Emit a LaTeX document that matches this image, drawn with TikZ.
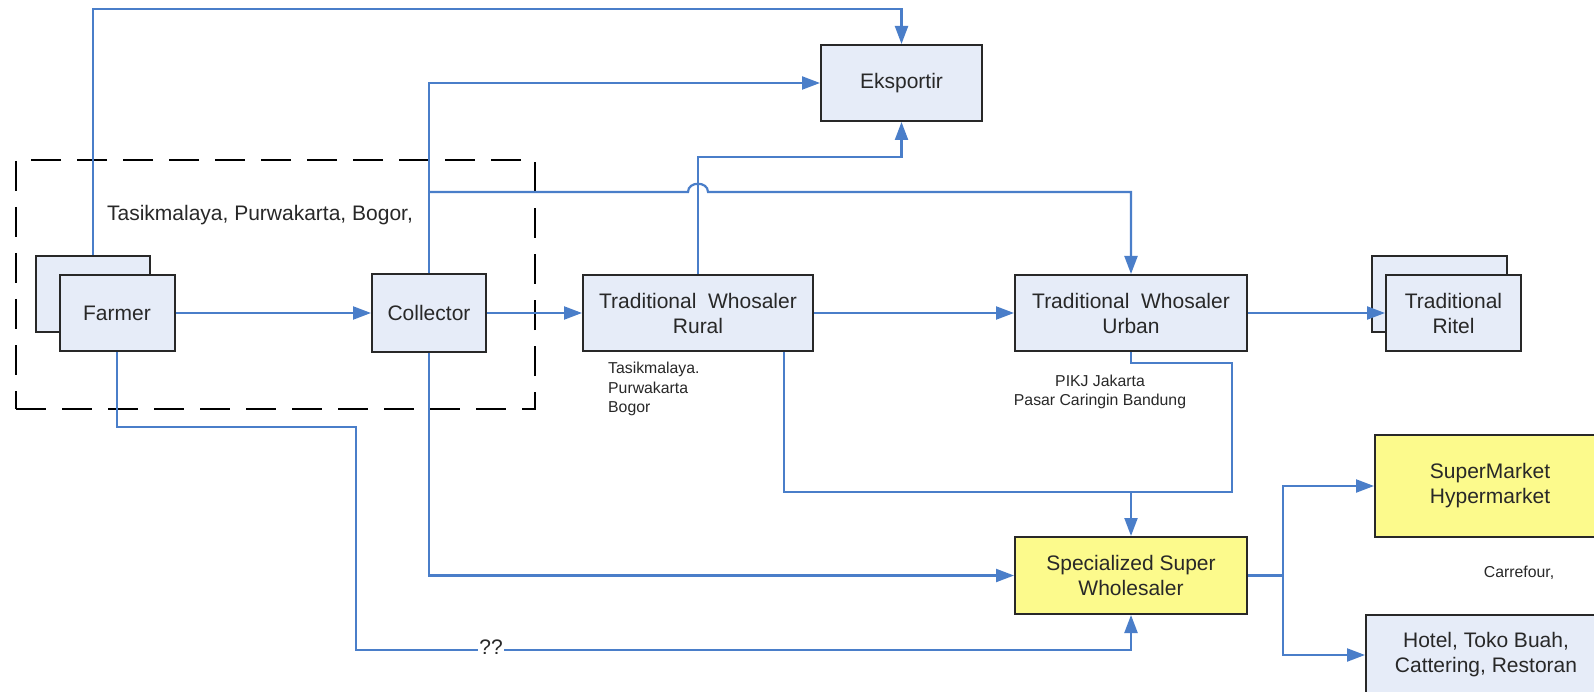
\documentclass[tikz,border=0pt]{standalone}
\usepackage{fontspec}
\setmainfont{Liberation Sans}
\usetikzlibrary{arrows.meta}
\definecolor{boxblue}{RGB}{230,236,248}
\definecolor{boxyellow}{RGB}{252,250,140}
\definecolor{lineblue}{RGB}{74,126,201}
\definecolor{boxline}{RGB}{40,40,40}
\definecolor{txt}{RGB}{40,40,40}
\begin{document}
\begin{tikzpicture}[x=1pt,y=-1pt,
  box/.style={draw=boxline, line width=2pt, fill=boxblue, inner sep=0pt, align=center,
    font=\fontsize{21}{25}\selectfont, text=txt},
  ybox/.style={box, fill=boxyellow},
  region/.style={draw=black, line width=1.8pt, dash pattern=on 30pt off 16pt, inner sep=0pt},
  conn/.style={draw=lineblue, line width=2.2pt, -{Triangle[length=18pt,width=13pt]}},
  plainline/.style={draw=lineblue, line width=2.2pt},
  small/.style={font=\fontsize{15.8}{19.5}\selectfont, text=txt, inner sep=0pt},
  biglabel/.style={font=\fontsize{21}{25}\selectfont, text=txt, inner sep=0pt}
]
\useasboundingbox (0,0) rectangle (1594,692);
\fill[white] (0,0) rectangle (1594,692);

% dashed region
\node[region, minimum width=519pt, minimum height=249pt] (region) at (275.5,284.5) {};

% boxes
\node[box, minimum width=114pt, minimum height=76pt] (farmerback) at (93,294) {};
\node[box, minimum width=115pt, minimum height=76pt] (farmer) at (117,313) {Farmer};
\node[box, minimum width=114pt, minimum height=77pt] (collector) at (429,313) {Collector};
\node[box, minimum width=230pt, minimum height=76pt] (rural) at (698,313) {Traditional\ \ Whosaler\\Rural};
\node[box, minimum width=232pt, minimum height=76pt] (urban) at (1131,313) {Traditional\ \ Whosaler\\Urban};
\node[box, minimum width=135pt, minimum height=76pt] (ritelback) at (1439.5,294) {};
\node[box, minimum width=135pt, minimum height=76pt] (ritel) at (1453.5,313) {Traditional\\Ritel};
\node[box, minimum width=161pt, minimum height=76pt] (eksportir) at (901.5,83) {Eksportir};
\node[ybox, minimum width=232pt, minimum height=77pt] (ssw) at (1131,575.5) {Specialized Super\\Wholesaler};
\node[ybox, minimum width=230pt, minimum height=102pt] (super) at (1490,486) {SuperMarket\\Hypermarket};
\node[box, minimum width=240pt, minimum height=80pt] (hotel) at (1486,655) {Hotel, Toko Buah,\\Cattering, Restoran};

% connectors
\draw[conn] (farmerback.north) |- (eksportir.north |- 0,9) -- (eksportir.north);
\draw[conn] (collector.north) |- (eksportir.west);
\draw[conn] (collector.north |- 0,192) -- (688,192)
   .. controls +(0,-11) and +(0,-11) .. (708,192) -| (urban.north);
\draw[conn] (rural.north) |- (eksportir.south |- 0,157) -- (eksportir.south);
\draw[conn] (farmer) -- (collector);
\draw[conn] (collector) -- (rural);
\draw[conn] (rural) -- (urban);
\draw[conn] (urban) -- (ritel);
\draw[conn] (farmer.south) |- (356,427) |- (ssw.south |- 0,650) -- (ssw.south);
\draw[conn] (collector.south) |- (ssw.west);
\draw[plainline] (urban.south) |- (1232,363) |- (ssw.north |- 0,492);
\draw[conn] ([xshift=-30pt]rural.south east) |- (ssw.north |- 0,492) -- (ssw.north);
\coordinate (split) at (1283,575.5);
\draw[conn] (ssw.east) -- (split) |- (super.west);
\draw[conn] (split) |- (hotel.west);

% labels
\node[biglabel, fill=white, inner sep=1pt] (qq) at (491,647) {??};
\node[biglabel] (regionlabel) at (260,215) {Tasikmalaya, Purwakarta, Bogor,};
\node[small, anchor=north west, align=left] (rurallabel) at (608,362) {Tasikmalaya.\\Purwakarta\\Bogor};
\node[small, align=center] (urbanlabel) at (1100,392) {PIKJ Jakarta\\Pasar Caringin Bandung};
\node[small] (carrefour) at (1519,573) {Carrefour,};
\end{tikzpicture}
\end{document}
